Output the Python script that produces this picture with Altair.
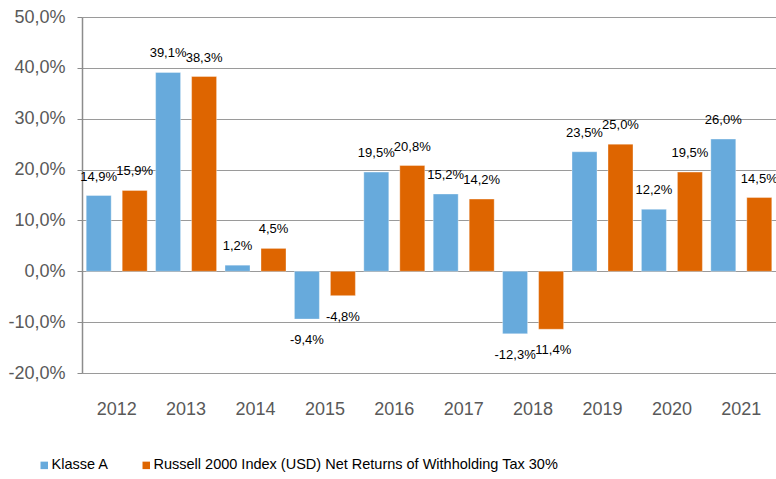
import altair as alt
import pandas as pd

years = ["2012", "2013", "2014", "2015", "2016", "2017", "2018", "2019", "2020", "2021"]
series_names = ["Klasse A", "Russell 2000 Index (USD) Net Returns of Withholding Tax 30%"]
klasse_a = [14.9, 39.1, 1.2, -9.4, 19.5, 15.2, -12.3, 23.5, 12.2, 26.0]
russell = [15.9, 38.3, 4.5, -4.8, 20.8, 14.2, -11.4, 25.0, 19.5, 14.5]
colors = ["#67AADC", "#DE6500"]
y_ticks = [-0.2, -0.1, 0.0, 0.1, 0.2, 0.3, 0.4, 0.5]

rows = []
for i, y in enumerate(years):
    rows.append({"year": y, "series": series_names[0], "pct": klasse_a[i]})
    rows.append({"year": y, "series": series_names[1], "pct": russell[i]})
df = pd.DataFrame(rows)

FONT = "Liberation Sans, Arial, sans-serif"

base = alt.Chart(df).transform_calculate(v="datum.pct / 100")

x_enc = alt.X("year:N", scale=alt.Scale(paddingInner=0, paddingOuter=0),
              axis=alt.Axis(title=None, labelAngle=0, ticks=False, domain=False,
                            labelFont=FONT, labelFontSize=18, labelColor="#595959",
                            labelPadding=27, grid=False))
xo_enc = alt.XOffset("series:N", scale=alt.Scale(domain=series_names, paddingInner=0.306, paddingOuter=0.117))
y_scale = alt.Scale(domain=[-0.2, 0.5], nice=False, zero=False)

bars = base.mark_bar(stroke="#ffffff", strokeOpacity=0.35, strokeWidth=1).encode(
    x=x_enc,
    xOffset=xo_enc,
    y=alt.Y("v:Q", scale=y_scale,
            axis=alt.Axis(title=None, format=".1%", values=y_ticks,
                          labelFont=FONT, labelFontSize=18, labelColor="#595959",
                          tickSize=5, tickColor="#8c8c8c", labelPadding=12,
                          domainColor="#8c8c8c", domainWidth=1.5,
                          gridColor="#9a9a9a", gridWidth=1.2)),
    color=alt.Color("series:N", scale=alt.Scale(domain=series_names, range=colors),
                    legend=alt.Legend(title=None, orient="none", legendX=-45, legendY=441,
                                      direction="horizontal", symbolType="square",
                                      symbolSize=56, symbolStrokeWidth=0,
                                      labelFont=FONT, labelFontSize=14.5, labelColor="#000000",
                                      labelOffset=0, columnPadding=30, padding=0,
                                      labelLimit=600)),
)

pos_labels = base.transform_filter("datum.pct >= 0").mark_text(
    font=FONT, fontSize=13, color="#000000", baseline="middle", dy=-19
).encode(
    x=alt.X("year:N"),
    xOffset=alt.XOffset("series:N"),
    y=alt.Y("v:Q"),
    text=alt.Text("v:Q", format=".1%"),
)
neg_labels = base.transform_filter("datum.pct < 0").mark_text(
    font=FONT, fontSize=13, color="#000000", baseline="middle", dy=21
).encode(
    x=alt.X("year:N"),
    xOffset=alt.XOffset("series:N"),
    y=alt.Y("v:Q"),
    text=alt.Text("v:Q", format=".1%"),
)

chart = alt.layer(bars, pos_labels, neg_labels).properties(
    width=694, height=356,
    autosize=alt.AutoSizeParams(type="none"),
    padding={"left": 82, "top": 17, "right": 0, "bottom": 106},
).configure_view(stroke=None).configure(
    locale={"number": {"decimal": ",", "thousands": ".", "grouping": [3],
                       "currency": ["", " €"], "minus": "-"}},
    background="#ffffff",
)

chart.save("out.html", embed_options={"renderer": "svg", "actions": False})
